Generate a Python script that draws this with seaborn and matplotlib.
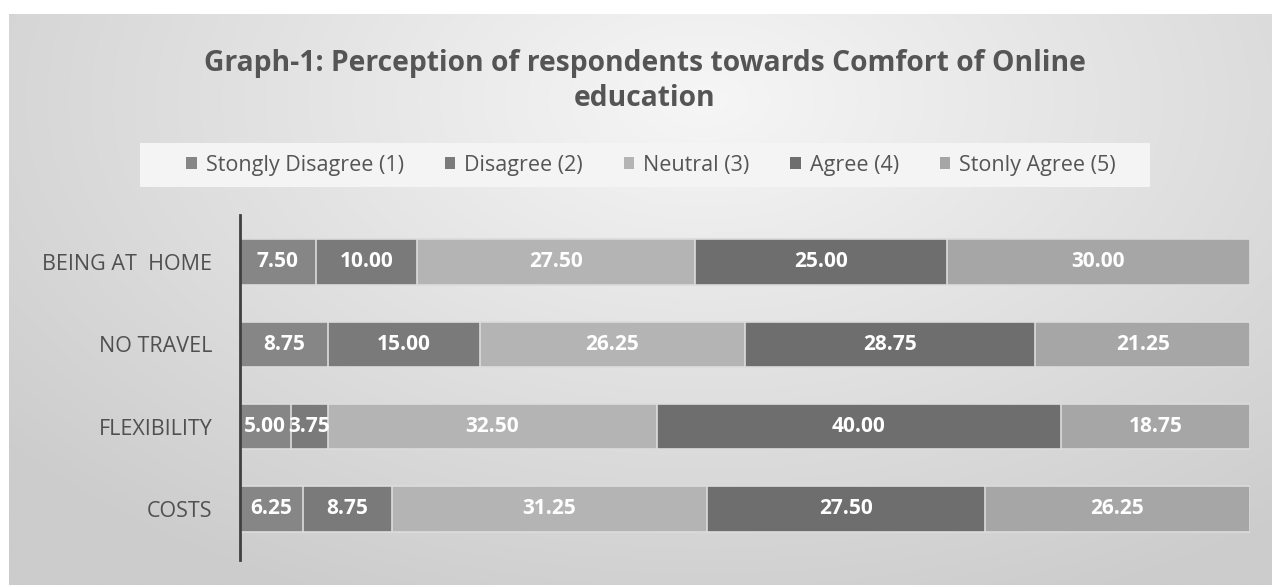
import numpy as np
import pandas as pd
import matplotlib
matplotlib.use("Agg")
import matplotlib.pyplot as plt
import seaborn as sns
from matplotlib.patches import Patch, Rectangle

categories = ["BEING AT  HOME", "NO TRAVEL", "FLEXIBILITY", "COSTS"]
series_names = ["Stongly Disagree (1)", "Disagree (2)", "Neutral (3)", "Agree (4)", "Stonly Agree (5)"]
strongly_disagree = [7.50, 8.75, 5.00, 6.25]
disagree = [10.00, 15.00, 3.75, 8.75]
neutral = [27.50, 26.25, 32.50, 31.25]
agree = [25.00, 28.75, 40.00, 27.50]
strongly_agree = [30.00, 21.25, 18.75, 26.25]
colors = ["#868686", "#7a7a7a", "#b4b4b4", "#6e6e6e", "#a6a6a6"]

title = "Graph-1: Perception of respondents towards Comfort of Online\neducation"

sns.set_theme(style="white")
plt.rcParams["font.family"] = ["Open Sans", "DejaVu Sans"]

W, H = 1272, 585
fig = plt.figure(figsize=(W / 100, H / 100), dpi=100)
fig.patch.set_facecolor("white")

# background panel with soft radial gradient
bg = fig.add_axes([9 / W, 0, 1 - 9 / W, 1 - 14 / H], zorder=-10)
yy, xx = np.mgrid[0:1:300j, 0:1:600j]
r = np.sqrt(((xx - 0.55) / 0.75) ** 2 + ((yy - 0.15) / 1.0) ** 2)
g = np.clip(0.965 - 0.17 * r, 0.80, 0.97)
bg.imshow(np.dstack([g, g, g]), aspect="auto", extent=[0, 1, 1, 0], interpolation="bicubic")
bg.axis("off")

# legend box
fig.patches.append(Rectangle((140 / W, 1 - 187 / H), 1010 / W, 44 / H, transform=fig.transFigure,
                             facecolor="#f4f4f4", edgecolor="none", zorder=-5))

ax = fig.add_axes([240 / W, 1 - 560 / H, 1010 / W, 345 / H])
ax.patch.set_alpha(0)

series = [strongly_disagree, disagree, neutral, agree, strongly_agree]
df = pd.DataFrame({n: v for n, v in zip(series_names, series)}, index=categories)
cum = df.cumsum(axis=1)

for i in range(len(series_names) - 1, -1, -1):
    d = pd.DataFrame({"cat": categories, "val": cum.iloc[:, i].values})
    sns.barplot(data=d, x="val", y="cat", orient="h", color=colors[i], width=0.55,
                edgecolor="#dcdcdc", linewidth=1.2, saturation=1, ax=ax)

for j, cat in enumerate(categories):
    for i, n in enumerate(series_names):
        v = df.loc[cat, n]
        c = cum.loc[cat, n] - v / 2
        ax.text(c, j, f"{v:.2f}", ha="center", va="center", color="white",
                fontsize=15, fontweight="bold")

ax.set_xlim(0, 100)
ax.set_ylim(3.62, -0.57)
ax.set_xlabel("")
ax.set_ylabel("")
ax.set_xticks([])
for s in ["top", "right", "bottom"]:
    ax.spines[s].set_visible(False)
ax.spines["left"].set_color("#404040")
ax.spines["left"].set_linewidth(2)
ax.tick_params(axis="y", length=0, pad=20, labelsize=15.5, labelcolor="#505050")

fig.text(645 / W, 1 - 81 / H, title, ha="center", va="center", fontsize=20.3,
         fontweight="bold", color="#555555", linespacing=1.3)

handles = [Patch(facecolor=c, edgecolor="none") for c in colors]
leg = fig.legend(handles, series_names, loc="center", bbox_to_anchor=(651 / W, 1 - 165 / H),
                 ncol=5, frameon=False, fontsize=15.5, handlelength=0.5, handleheight=0.5,
                 handletextpad=0.4, columnspacing=1.9, borderpad=0.3)
for t in leg.get_texts():
    t.set_color("#555555")

fig.savefig("out.png", dpi=100)
